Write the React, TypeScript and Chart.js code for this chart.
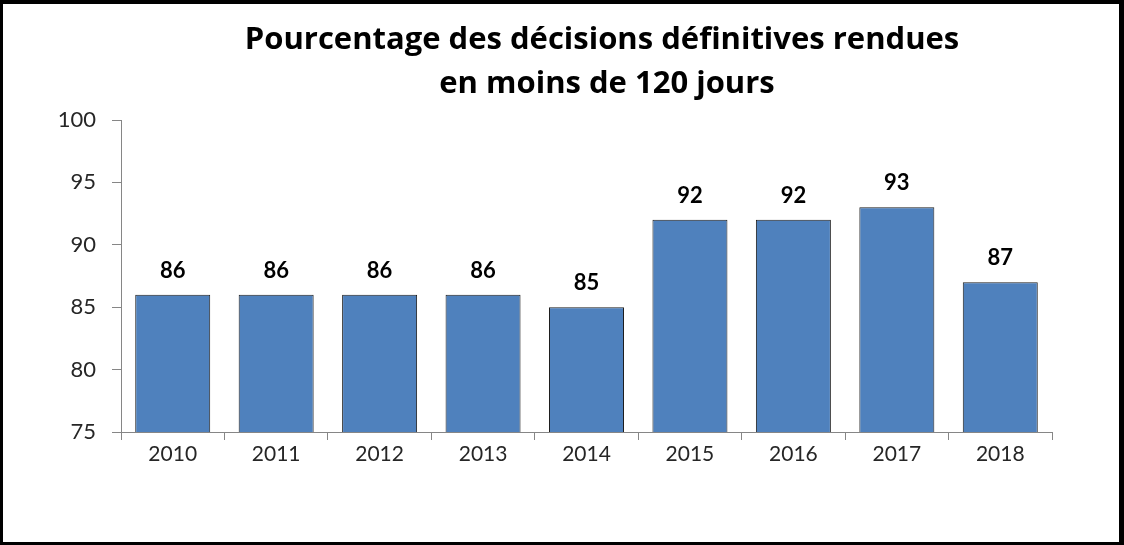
import React, { useEffect, useRef } from "react";
import { Chart, registerables } from "chart.js";

Chart.register(...registerables);

const categories = ["2010", "2011", "2012", "2013", "2014", "2015", "2016", "2017", "2018"];
const values = [86, 86, 86, 86, 85, 92, 92, 93, 87];
const yMin = 75;
const yMax = 100;
const yStep = 5;
const titleLines = ["Pourcentage des décisions définitives rendues", "en moins de 120 jours"];

const FONT = "Lato, 'Open Sans', sans-serif";
const TITLE_FONT = "'Open Sans', Lato, sans-serif";

const titlePlugin = {
  id: "customTitle",
  afterDraw(chart: any) {
    const ctx = chart.ctx;
    ctx.save();
    ctx.fillStyle = "#000000";
    ctx.font = `bold 31px ${TITLE_FONT}`;
    ctx.textAlign = "center";
    ctx.textBaseline = "alphabetic";
    ctx.fillText(titleLines[0], 602, 49);
    ctx.fillText(titleLines[1], 607, 93);
    ctx.restore();
  },
};

const valueLabelPlugin = {
  id: "valueLabels",
  afterDatasetsDraw(chart: any) {
    const ctx = chart.ctx;
    const meta = chart.getDatasetMeta(0);
    ctx.save();
    ctx.fillStyle = "#000000";
    ctx.font = `bold 22px ${FONT}`;
    ctx.textAlign = "center";
    ctx.textBaseline = "alphabetic";
    meta.data.forEach((bar: any, i: number) => {
      ctx.fillText(String(values[i]), bar.x, bar.y - 17);
    });
    ctx.restore();
  },
};

export default function App() {
  const canvasRef = useRef<HTMLCanvasElement | null>(null);

  useEffect(() => {
    if (!canvasRef.current) return;
    const chart = new Chart(canvasRef.current, {
      type: "bar",
      data: {
        labels: categories,
        datasets: [
          {
            data: values,
            backgroundColor: "#4F81BD",
            borderColor: "#1e1e1e",
            borderWidth: 1,
            barPercentage: 0.725,
            categoryPercentage: 1,
          },
        ],
      },
      options: {
        responsive: false,
        animation: false,
        layout: { padding: { top: 120, right: 72, bottom: 73, left: 0 } },
        plugins: {
          legend: { display: false },
          title: { display: false },
          tooltip: { enabled: false },
        },
        scales: {
          x: {
            grid: {
              display: true,
              drawOnChartArea: false,
              drawTicks: true,
              tickLength: 8,
              color: "#868686",
              offset: true,
            },
            border: { display: true, color: "#868686", width: 1 },
            ticks: {
              color: "#262626",
              font: { family: FONT, size: 21 },
              padding: 2,
              maxRotation: 0,
            },
            afterFit(scale: any) {
              scale.height = 40;
            },
          },
          y: {
            min: yMin,
            max: yMax,
            grid: {
              display: true,
              drawOnChartArea: false,
              drawTicks: true,
              tickLength: 9,
              color: "#868686",
            },
            border: { display: true, color: "#868686", width: 1 },
            ticks: {
              stepSize: yStep,
              color: "#262626",
              font: { family: FONT, size: 22 },
              padding: 16,
            },
            afterFit(scale: any) {
              scale.width = 121;
            },
          },
        },
      },
      plugins: [titlePlugin, valueLabelPlugin],
    });
    return () => chart.destroy();
  }, []);

  return (
    <div style={{ position: "fixed", left: 0, top: 0, width: 1124, height: 545, background: "#ffffff" }}>
      <canvas ref={canvasRef} width={1124} height={545} style={{ position: "absolute", left: 0, top: 0 }} />
      <div
        style={{
          position: "absolute",
          left: 0,
          top: 0,
          width: 1124,
          height: 545,
          boxSizing: "border-box",
          borderStyle: "solid",
          borderColor: "#000000",
          borderWidth: "4px 5px 3px 3px",
          pointerEvents: "none",
        }}
      />
    </div>
  );
}
